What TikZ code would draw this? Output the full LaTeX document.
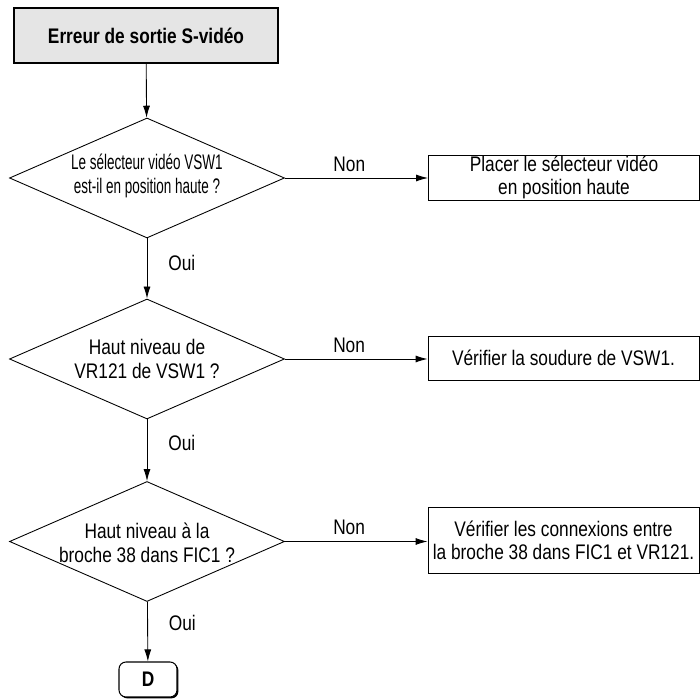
\documentclass[tikz,border=0pt]{standalone}
\usepackage{fontspec}
\setmainfont{Liberation Sans}[FakeStretch=0.82]
\newfontfamily\condensed{Liberation Sans}[FakeStretch=0.64]
\usetikzlibrary{shapes.geometric, arrows.meta, shadows}

\tikzset{
  startbox/.style={draw, line width=0.6pt, fill=gray!20, minimum width=5.28cm,
    minimum height=1.1cm, font=\fontsize{12}{14}\selectfont\bfseries,
    drop shadow={shadow xshift=0.8pt, shadow yshift=-0.8pt, opacity=1, fill=black}},
  decision/.style={draw, diamond, line width=0.5pt, minimum width=5.5cm,
    minimum height=2.4cm, inner sep=0pt},
  qtext/.style={align=center, font=\fontsize{12}{13.5}\selectfont},
  actionbox/.style={draw, line width=0.5pt, minimum width=5.42cm, inner sep=0pt,
    align=center, font=\fontsize{12}{13}\selectfont},
  endbox/.style={draw, fill=white, rounded corners=4pt, line width=0.6pt,
    minimum width=1.16cm, minimum height=0.7cm, font=\fontsize{12}{14}\selectfont\bfseries,
    drop shadow={shadow xshift=0.8pt, shadow yshift=-0.8pt, opacity=1, fill=black}},
  flow/.style={-{Latex[length=2.4mm,width=1.4mm]}, line width=0.5pt},
  answer/.style={font=\fontsize{12}{14}\selectfont}
}

\begin{document}
\begin{tikzpicture}
\useasboundingbox (0,0) rectangle (14,14);

% start
\node[startbox] (start) at (2.92,13.29) {Erreur de sortie S-vidéo};

% questions
\node[decision] (q1) at (2.94,10.44) {};
\node[decision] (q2) at (2.94,6.82) {};
\node[decision] (q3) at (2.94,3.17) {};
\node[qtext] (t1) at (2.94,10.48) {\condensed Le sélecteur vidéo VSW1\\\condensed est-il en position haute ?};
\node[qtext] (t2) at (2.94,6.82) {Haut niveau de\\VR121 de VSW1 ?};
\node[qtext] (t3) at (2.94,3.14) {Haut niveau à la\\broche 38 dans FIC1 ?};

% actions
\node[actionbox, minimum height=0.9cm] (act1) at (11.28,10.45) {Placer le sélecteur vidéo\\en position haute};
\node[actionbox, minimum height=0.88cm] (act2) at (11.27,6.84) {Vérifier la soudure de VSW1.};
\node[actionbox, minimum height=1.32cm] (act3) at (11.27,3.2) {Vérifier les connexions entre\\la broche 38 dans FIC1 et VR121.};

% connector
\node[endbox] (D) at (2.96,0.41) {D};

% arrows
\draw[flow] (start) -- (q1);
\draw[flow] (q1) -- (q2) node[answer, right=0.3cm, pos=0.4] {Oui};
\draw[flow] (q2) -- (q3) node[answer, right=0.3cm, pos=0.38] {Oui};
\draw[flow] (q3) -- (D) node[answer, right=0.3cm, pos=0.36] {Oui};

\draw[flow] (q1.east) -- (q1.east -| act1.west) node[answer, above, pos=0.45] {Non};
\draw[flow] (q2.east) -- (q2.east -| act2.west) node[answer, above, pos=0.45] {Non};
\draw[flow] (q3.east) -- (q3.east -| act3.west) node[answer, above, pos=0.45] {Non};

\end{tikzpicture}
\end{document}
